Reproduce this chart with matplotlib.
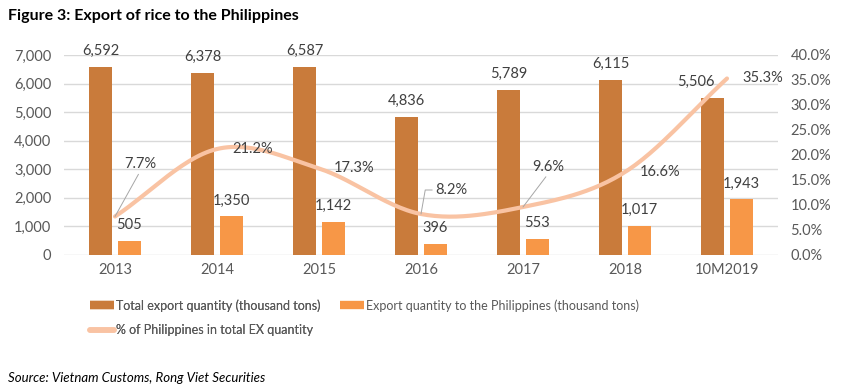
import matplotlib
matplotlib.use("Agg")
import matplotlib.pyplot as plt
from matplotlib.lines import Line2D
import numpy as np

plt.rcParams['font.family'] = ['Lato', 'DejaVu Sans']

# data
years = ['2013', '2014', '2015', '2016', '2017', '2018', '10M2019']
total_export = [6592, 6378, 6587, 4836, 5789, 6115, 5506]
ph_export = [505, 1350, 1142, 396, 553, 1017, 1943]
ph_share = [7.7, 21.2, 17.3, 8.2, 9.6, 16.6, 35.3]

c_total = '#C97B3B'
c_ph = '#F79747'
c_line = '#F9C3A3'
c_text = '#404040'


def catmull_rom(xs, ys, n=30):
    # smooth curve through the points, like Excel's "smoothed line"
    xs = np.asarray(xs, float)
    ys = np.asarray(ys, float)
    px = np.concatenate([[2 * xs[0] - xs[1]], xs, [2 * xs[-1] - xs[-2]]])
    py = np.concatenate([[2 * ys[0] - ys[1]], ys, [2 * ys[-1] - ys[-2]]])
    out_x, out_y = [], []
    t = np.linspace(0, 1, n)
    for i in range(1, len(px) - 2):
        for arr, out in ((px, out_x), (py, out_y)):
            p0, p1, p2, p3 = arr[i - 1], arr[i], arr[i + 1], arr[i + 2]
            seg = 0.5 * ((2 * p1) + (-p0 + p2) * t +
                         (2 * p0 - 5 * p1 + 4 * p2 - p3) * t ** 2 +
                         (-p0 + 3 * p1 - 3 * p2 + p3) * t ** 3)
            out.extend(seg)
    return np.array(out_x), np.array(out_y)


fig = plt.figure(figsize=(8.45, 3.91), dpi=100)
ax = fig.add_axes([64 / 845, 136 / 391, 714 / 845, 200 / 391])
ax2 = ax.twinx()

x = np.arange(len(years))
w = 0.225
off = 0.142
ax.bar(x - off, total_export, w, color=c_total, zorder=2)
ax.bar(x + off, ph_export, w, color=c_ph, zorder=2)

ax.set_xlim(-0.5, len(years) - 0.5)
ax.set_ylim(0, 7000)
ax.set_yticks(np.arange(0, 7001, 1000))
ax.set_yticklabels([f'{v:,}' for v in range(0, 7001, 1000)])
ax.set_xticks(x)
ax.set_xticklabels(years)
ax.grid(axis='y', color='#D9D9D9', lw=1, zorder=0)
ax.set_axisbelow(True)
for s in ax.spines.values():
    s.set_visible(False)
for s in ax2.spines.values():
    s.set_visible(False)
ax.tick_params(axis='both', length=0, colors='#595959', labelsize=10.5)
ax.tick_params(axis='y', pad=9)
ax.tick_params(axis='x', pad=6)

ax2.set_ylim(0, 40)
ax2.set_yticks(np.arange(0, 40.1, 5))
ax2.set_yticklabels([f'{v:.1f}%' for v in np.arange(0, 40.1, 5)])
ax2.tick_params(axis='y', length=0, colors='#595959', labelsize=10.5, pad=9)

sx, sy = catmull_rom(x, ph_share)
ax2.plot(sx, sy, color=c_line, lw=3.0, solid_capstyle='round', zorder=3)

# bar value labels
for i, v in enumerate(total_export):
    dx = -17 if years[i] == '10M2019' else 0
    ax.annotate(f'{v:,}', (x[i] - off, v), xytext=(dx, 16), textcoords='offset pixels',
                ha='center', va='center', fontsize=10.5, color=c_text)
for i, v in enumerate(ph_export):
    ax.annotate(f'{v:,}', (x[i] + off, v), xytext=(0, 16), textcoords='offset pixels',
                ha='center', va='center', fontsize=10.5, color=c_text)

# share labels
leader = dict(arrowstyle='-', color='#A6A6A6', lw=0.7, shrinkA=0, shrinkB=0)
for i, v in enumerate(ph_share):
    kw = dict(textcoords='offset pixels', fontsize=10.5, color=c_text, va='center')
    if i == 0:
        ax2.annotate(f'{v}%', (x[i], v), xytext=(25, 52), ha='center',
                     arrowprops=dict(leader, relpos=(0.5, 0)), **kw)
    elif i == 3:
        ax2.annotate(f'{v}%', (x[i], v), xytext=(14, 24), ha='left',
                     arrowprops=dict(leader, relpos=(0, 0.5),
                                     connectionstyle='angle,angleA=0,angleB=80,rad=0'), **kw)
    elif i == 4:
        ax2.annotate(f'{v}%', (x[i], v), xytext=(25, 40), ha='center',
                     arrowprops=dict(leader, relpos=(0.5, 0)), **kw)
    else:
        ax2.annotate(f'{v}%', (x[i], v), xytext=(15, 0), ha='left', **kw)

fig.text(8 / 845, 1 - 16 / 391, 'Figure 3: Export of rice to the Philippines',
         fontsize=11.5, fontweight='bold', color='black', va='center')
fig.text(8 / 845, 1 - 378 / 391, 'Source: Vietnam Customs, Rong Viet Securities',
         fontsize=9.5, style='italic', color='black', va='center')

# legend: two columns placed separately
h_total = Line2D([], [], color=c_total, lw=6, solid_capstyle='butt')
h_line = Line2D([], [], color=c_line, lw=4, solid_capstyle='round')
h_ph = Line2D([], [], color=c_ph, lw=6, solid_capstyle='butt')
leg_kw = dict(loc='upper left', frameon=False, fontsize=9, labelcolor='#595959',
              handlelength=1.9, handletextpad=0.2, labelspacing=1.0,
              borderaxespad=0, borderpad=0)
leg1 = fig.legend([h_total, h_line],
                  ['Total export quantity (thousand tons)',
                   '% of Philippines in total EX quantity'],
                  bbox_to_anchor=(90 / 845, 1 - 299 / 391), **leg_kw)
fig.add_artist(leg1)
fig.legend([h_ph], ['Export quantity to the Philippines (thousand tons)'],
           bbox_to_anchor=(340 / 845, 1 - 299 / 391), **leg_kw)

fig.savefig('out.png', dpi=100)
